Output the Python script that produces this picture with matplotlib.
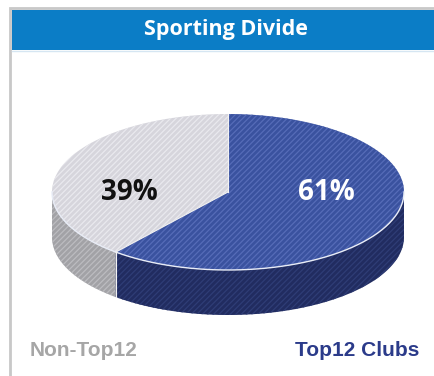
import numpy as np
import matplotlib
matplotlib.use("Agg")
from matplotlib import pyplot as plt
from matplotlib.patches import Polygon, Rectangle

title = "Sporting Divide"
labels = ["Non-Top12", "Top12 Clubs"]
shares = [39, 61]
top_colors = ["#d6d5dc", "#3a529f"]
stripe_colors = ["#e9e9ee", "#566cb8"]
side_colors = ["#a2a2a6", "#212c60"]
side_stripes = ["#bcbcc0", "#2f3d76"]
pct_colors = ["#111111", "#ffffff"]
label_colors = ["#a6a6a6", "#2b3b8a"]

W, H = 434, 376
cx, cy = 228, 192      # centre of top face (pixels)
rx, ry = 176, 78       # ellipse radii
depth = 45

plt.rcParams['hatch.linewidth'] = 0.9

fig = plt.figure(figsize=(W / 100, H / 100), dpi=100)
ax = fig.add_axes([0, 0, 1, 1])
ax.set_xlim(0, W)
ax.set_ylim(H, 0)
ax.axis('off')

# panel frame + title bar
ax.add_patch(Rectangle((10, 8), W, H, facecolor='white', edgecolor='#c8c8c8', lw=2))
ax.add_patch(Rectangle((12, 10), W, 40, facecolor='#0b7dc6', edgecolor='none'))
ax.plot([12, W], [51, 51], color='#d6e6f2', lw=1)
ax.text(226, 30, title, color='white', fontsize=15.5, fontweight='bold',
        family=['Open Sans', 'DejaVu Sans'], ha='center', va='center')


def ell(t, dy=0):
    return cx + rx * np.cos(t), cy - ry * np.sin(t) + dy


# slice angles: Non-Top12 goes ccw from 12 o'clock, Top12 fills the rest
start = np.pi / 2
spans = []
for s in shares:
    end = start + 2 * np.pi * s / 100
    spans.append((start, end))
    start = end

# sides (front half only: angles between pi and 2pi)
for i, (a0, a1) in enumerate(spans):
    lo, hi = max(a0, np.pi), min(a1, 2 * np.pi)
    if lo >= hi:
        continue
    t = np.linspace(lo, hi, 120)
    x, y = ell(t)
    xb, yb = ell(t[::-1], depth)
    pts = np.column_stack([np.r_[x, xb], np.r_[y, yb]])
    ax.add_patch(Polygon(pts, closed=True, facecolor=side_colors[i],
                         edgecolor=side_stripes[i], hatch='//////', lw=0))

# top faces
for i, (a0, a1) in enumerate(spans):
    t = np.linspace(a0, a1, 200)
    x, y = ell(t)
    pts = np.column_stack([np.r_[cx, x], np.r_[cy, y]])
    ax.add_patch(Polygon(pts, closed=True, facecolor=top_colors[i],
                         edgecolor=stripe_colors[i], hatch='//////', lw=0))

# highlight edges
t = np.linspace(np.pi, 2 * np.pi, 200)
x, y = ell(t)
ax.plot(x, y, color='#e8ecf6', lw=1.0)
a = spans[0][1]
ex, ey = ell(a)
ax.plot([cx, ex], [cy, ey], color='#f2f2f2', lw=0.8)
ax.plot([ex, ex], [ey, ey + depth], color='#f2f2f2', lw=0.8)
ax.plot([cx, cx], [cy, cy - ry], color='#f2f2f2', lw=0.8)

# percentage labels
pct_pos = [(129, 193), (326, 193)]
for i, s in enumerate(shares):
    ax.text(pct_pos[i][0], pct_pos[i][1], f"{s}%", color=pct_colors[i], fontsize=20,
            fontweight='bold', family=['Open Sans', 'DejaVu Sans'], ha='center', va='center')

# bottom legend labels
ax.text(30, 351, labels[0], color=label_colors[0], fontsize=15, fontweight='bold',
        family=['Liberation Sans', 'DejaVu Sans'], ha='left', va='center')
ax.text(419, 351, labels[1], color=label_colors[1], fontsize=15, fontweight='bold',
        family=['Liberation Sans', 'DejaVu Sans'], ha='right', va='center')

fig.savefig("out.png", dpi=100)
